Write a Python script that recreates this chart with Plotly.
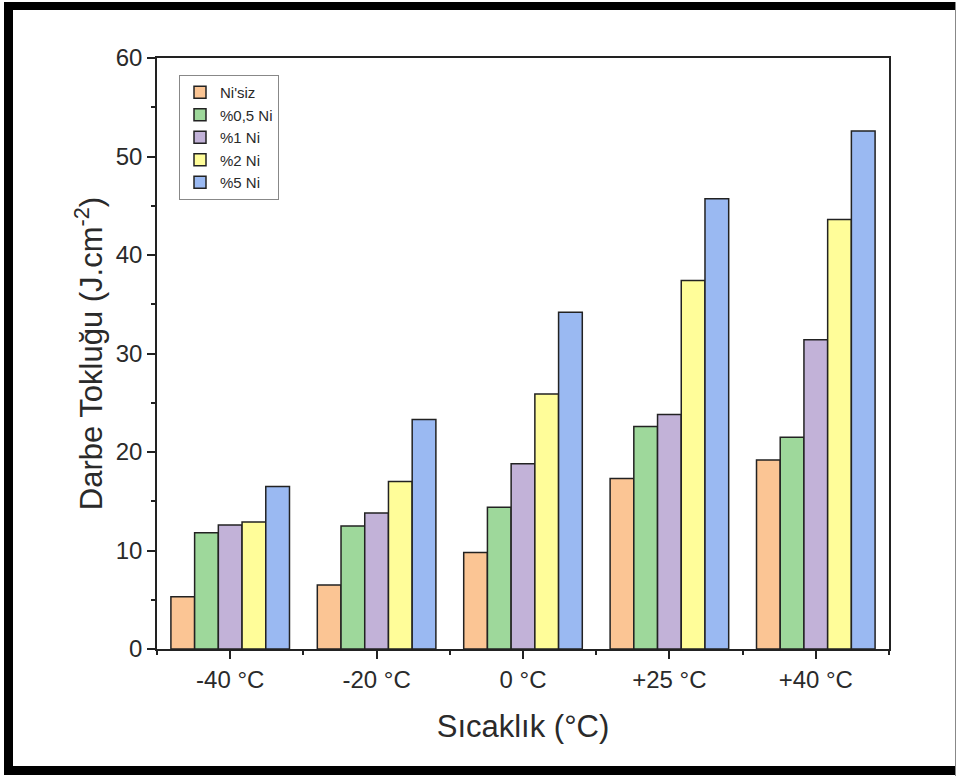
import plotly.graph_objects as go

categories = ["-40 °C", "-20 °C", "0 °C", "+25 °C", "+40 °C"]
series_names = ["Ni'siz", "%0,5 Ni", "%1 Ni", "%2 Ni", "%5 Ni"]
ni_siz = [5.3, 6.5, 9.8, 17.3, 19.2]
ni_05 = [11.8, 12.5, 14.4, 22.6, 21.5]
ni_1 = [12.6, 13.8, 18.8, 23.8, 31.4]
ni_2 = [12.9, 17.0, 25.9, 37.4, 43.6]
ni_5 = [16.5, 23.3, 34.2, 45.7, 52.6]
colors = ["#FBC594", "#9ED89B", "#C2B2D8", "#FFFD99", "#9AB9F2"]

values = [ni_siz, ni_05, ni_1, ni_2, ni_5]
xpos = list(range(len(categories)))

fig = go.Figure()
for name, vals, col in zip(series_names, values, colors):
    fig.add_trace(go.Bar(
        x=xpos, y=vals, name=name,
        marker=dict(color=col, line=dict(color="#222222", width=1.5)),
    ))

W, H = 956, 776
L, R, T, B = 157, 889, 58, 649

def px(x):
    return (x - L) / (R - L)

def py(y):
    return (B - y) / (B - T)

shapes = [
    # outer frame bands
    dict(type="rect", xref="paper", yref="paper", x0=px(4), x1=px(956), y0=py(2), y1=py(10),
         fillcolor="black", line=dict(width=0), layer="above"),
    dict(type="rect", xref="paper", yref="paper", x0=px(4), x1=px(13), y0=py(2), y1=py(775),
         fillcolor="black", line=dict(width=0), layer="above"),
    dict(type="rect", xref="paper", yref="paper", x0=px(4), x1=px(956), y0=py(766), y1=py(775),
         fillcolor="black", line=dict(width=0), layer="above"),
    dict(type="line", xref="paper", yref="paper", x0=px(955.5), x1=px(955.5), y0=py(2), y1=py(776),
         line=dict(color="#888888", width=1), layer="above"),
]

font = "Liberation Sans, Arial, sans-serif"
txt = "#2a2a2a"

fig.update_layout(
    width=W, height=H,
    margin=dict(l=L, r=W - R, t=T, b=H - B),
    paper_bgcolor="white", plot_bgcolor="white",
    barmode="group", bargap=0.19, bargroupgap=0,
    font=dict(family=font, color=txt),
    shapes=shapes,
    showlegend=True,
    legend=dict(
        x=px(179), y=py(75), xanchor="left", yanchor="top",
        bordercolor="#888888", borderwidth=1, bgcolor="white",
        font=dict(size=15, family=font, color=txt),
        tracegroupgap=0, itemwidth=30,
    ),
    xaxis=dict(
        range=[-0.5, 4.5],
        tickmode="array", tickvals=xpos, ticktext=categories,
        ticks="outside", ticklen=8, tickwidth=1.5, tickcolor="#222222",
        minor=dict(tickmode="linear", tick0=-0.5, dtick=1, ticks="outside", ticklen=4,
                   tickwidth=1.5, tickcolor="#222222"),
        showline=True, linecolor="#222222", linewidth=1.5, mirror=True,
        showgrid=False, zeroline=False,
        tickfont=dict(size=24, family=font, color=txt),
        title=dict(text="Sıcaklık (°C)", font=dict(size=31, family=font, color=txt), standoff=24),
    ),
    yaxis=dict(
        range=[0, 60], dtick=10,
        ticks="outside", ticklen=8, tickwidth=1.5, tickcolor="#222222",
        minor=dict(dtick=5, ticks="outside", ticklen=4, tickwidth=1.5, tickcolor="#222222"),
        showline=True, linecolor="#222222", linewidth=1.5, mirror=True,
        showgrid=False, zeroline=False,
        tickfont=dict(size=24, family=font, color=txt),
        title=dict(text="Darbe Tokluğu (J.cm<sup>-2</sup>)",
                   font=dict(size=31, family=font, color=txt), standoff=4),
    ),
)

fig.write_html("out.html", config={"displayModeBar": False},
               post_script="document.body.style.margin='0';")
